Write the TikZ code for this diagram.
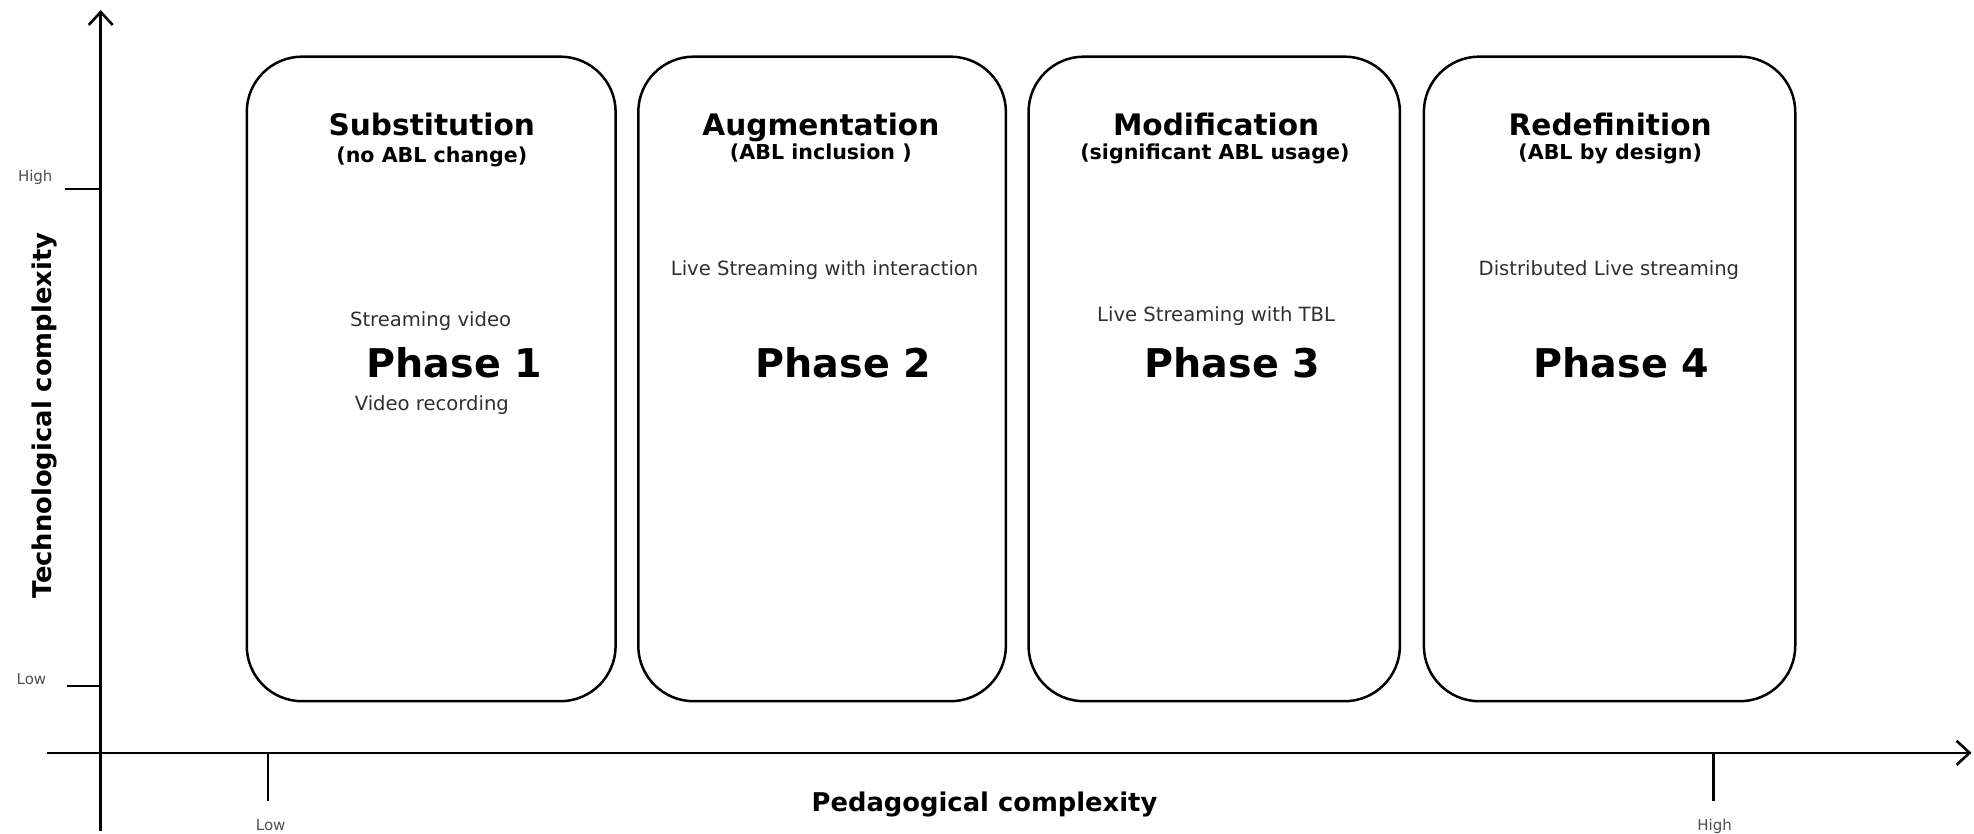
\documentclass[tikz,border=0pt]{standalone}
\usepackage{fontspec}
\setmainfont{DejaVu Sans}
\usetikzlibrary{arrows.meta}
\definecolor{txtgray}{HTML}{303030}
\definecolor{tickgray}{HTML}{505050}
\tikzset{
  phasebox/.style={draw=black, line width=1.25pt, rounded corners=27.7pt, rectangle, inner sep=0pt},
  axisline/.style={line width=1.3pt, black},
  axisarrow/.style={axisline, -{Straight Barb[length=6.5pt,width=12pt,line width=1.3pt]}},
  tickline/.style={line width=1.3pt, black},
  ttl/.style={font=\fontsize{14.8}{16}\selectfont\bfseries, anchor=base, inner sep=0pt},
  sub/.style={font=\fontsize{10.3}{12}\selectfont\bfseries, anchor=base, inner sep=0pt},
  item/.style={font=\fontsize{9.8}{11}\selectfont, text=txtgray, anchor=base, inner sep=0pt},
  phase/.style={font=\fontsize{19.8}{22}\selectfont\bfseries, anchor=base, inner sep=0pt},
  ticklbl/.style={font=\fontsize{7.5}{8}\selectfont, text=tickgray, anchor=base, inner sep=0pt},
  axlbl/.style={font=\fontsize{12.9}{14}\selectfont\bfseries, inner sep=0pt}
}
\begin{document}
\begin{tikzpicture}[x=0.6295pt, y=-0.6295pt]
\useasboundingbox (0,0) rectangle (1568,662);
% boxes
\node[phasebox, minimum width=293*0.6295pt, minimum height=512*0.6295pt] (b1) at (342.5,301) {};
\node[phasebox, minimum width=292*0.6295pt, minimum height=512*0.6295pt] (b2) at (653,301) {};
\node[phasebox, minimum width=295*0.6295pt, minimum height=512*0.6295pt] (b3) at (964.5,301) {};
\node[phasebox, minimum width=295*0.6295pt, minimum height=512*0.6295pt] (b4) at (1278.5,301) {};
% titles
\node[ttl] (t1) at (343,108) {Substitution};
\node[sub] (s1) at (343,129) {(no ABL change)};
\node[ttl] (t2) at (652,108) {Augmentation};
\node[sub] (s2) at (652,127) {(ABL inclusion )};
\node[ttl] (t3) at (966,108) {Modification};
\node[sub] (s3) at (965,127) {(significant ABL usage)};
\node[ttl] (t4) at (1279,108) {Redefinition};
\node[sub] (s4) at (1279,127) {(ABL by design)};
% contents
\node[item] (i1a) at (342,259) {Streaming video};
\node[phase] (p1) at (361,300) {Phase 1};
\node[item] (i1b) at (343,326) {Video recording};
\node[item] (i2) at (655,219) {Live Streaming with interaction};
\node[phase] (p2) at (670,300) {Phase 2};
\node[item] (i3) at (966,255) {Live Streaming with TBL};
\node[phase] (p3) at (979,300) {Phase 3};
\node[item] (i4) at (1278,219) {Distributed Live streaming};
\node[phase] (p4) at (1288,300) {Phase 4};
% axes
\coordinate (ys) at (80,660);
\coordinate (ye) at (80,8);
\coordinate (xs) at (37,598);
\coordinate (xe) at (1566,598);
\draw[axisarrow] (ys) -- (ye);
\draw[axisarrow] (xs) -- (xe);
% y ticks
\coordinate (yh0) at (52,150); \coordinate (yh1) at (80,150);
\coordinate (yl0) at (53,545); \coordinate (yl1) at (80,545);
\draw[tickline] (yh0) -- (yh1);
\draw[tickline] (yl0) -- (yl1);
\node[ticklbl] (yhl) at (28,144) {High};
\node[ticklbl] (yll) at (25,544) {Low};
% x ticks
\coordinate (xl0) at (213,598); \coordinate (xl1) at (213,636);
\coordinate (xh0) at (1361,598); \coordinate (xh1) at (1361,636);
\draw[tickline] (xl0) -- (xl1);
\draw[tickline] (xh0) -- (xh1);
\node[ticklbl] (xll) at (215,660) {Low};
\node[ticklbl] (xhl) at (1362,660) {High};
% axis labels
\node[axlbl] (xlab) at (782,639) {Pedagogical complexity};
\node[axlbl, rotate=90] (ylab) at (35,330) {Technological complexity};
\end{tikzpicture}
\end{document}
